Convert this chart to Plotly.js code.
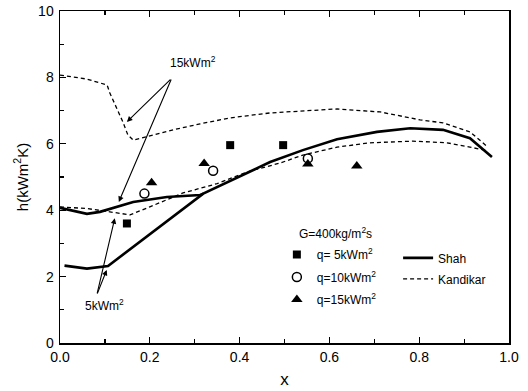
<!DOCTYPE html>
<html>
<head>
<meta charset="utf-8">
<script src="https://cdn.plot.ly/plotly-3.0.1.min.js"></script>
<style>html,body{margin:0;padding:0;background:#fff;}#chart{width:528px;height:391px;}</style>
</head>
<body>
<div id="chart"></div>
<script>
// Shah correlation, q = 5 kW/m2
const shah5X = [0.01, 0.06, 0.107, 0.319, 0.468, 0.541, 0.617, 0.706, 0.78, 0.853, 0.913, 0.962];
const shah5Y = [2.33, 2.24, 2.32, 4.50, 5.45, 5.81, 6.14, 6.36, 6.47, 6.42, 6.17, 5.60];
// Shah correlation, q = 15 kW/m2
const shah15X = [0.0, 0.06, 0.089, 0.163, 0.238, 0.312, 0.319];
const shah15Y = [4.07, 3.89, 3.95, 4.25, 4.40, 4.46, 4.50];
// Kandikar correlation, q = 15 kW/m2
const kand15X = [0.0, 0.06, 0.105, 0.111, 0.14, 0.151, 0.163, 0.189, 0.252, 0.312, 0.379, 0.468, 0.617, 0.713, 0.802, 0.853, 0.913, 0.953];
const kand15Y = [8.07, 7.95, 7.77, 7.53, 6.66, 6.27, 6.11, 6.20, 6.42, 6.60, 6.78, 6.93, 7.05, 6.96, 6.72, 6.63, 6.36, 5.90];
// Kandikar correlation, q = 5 kW/m2
const kand5X = [0.0, 0.06, 0.111, 0.156, 0.20, 0.274, 0.35, 0.416, 0.49, 0.541, 0.617, 0.69, 0.786, 0.862, 0.913, 0.95];
const kand5Y = [4.10, 4.05, 3.95, 3.86, 4.10, 4.52, 4.80, 5.15, 5.42, 5.66, 5.90, 6.03, 6.08, 6.03, 5.90, 5.80];
// Experimental data
const q5X = [0.149, 0.379, 0.497];
const q5Y = [3.60, 5.96, 5.96];
const q10X = [0.188, 0.341, 0.552];
const q10Y = [4.50, 5.19, 5.56];
const q15X = [0.204, 0.321, 0.552, 0.661];
const q15Y = [4.83, 5.41, 5.39, 5.33];

const xTicks = [0, 0.2, 0.4, 0.6, 0.8, 1.0];
const xTickText = ["0.0", "0.2", "0.4", "0.6", "0.8", "1.0"];
const yTicks = [0, 2, 4, 6, 8, 10];

const FONT = "Liberation Sans, Arial, sans-serif";

const traces = [
  {x: shah5X, y: shah5Y, mode: 'lines', name: 'Shah', legend: 'legend2', legendgroup: 'a',
   line: {color: '#000', width: 2.6}, showlegend: true},
  {x: shah15X, y: shah15Y, mode: 'lines', name: 'Shah', legend: 'legend2', legendgroup: 'a',
   line: {color: '#000', width: 2.6}, showlegend: false},
  {x: kand15X, y: kand15Y, mode: 'lines', name: 'Kandikar', legend: 'legend2', legendgroup: 'b',
   line: {color: '#000', width: 1.3, dash: '4px,3px'}, showlegend: true},
  {x: kand5X, y: kand5Y, mode: 'lines', name: 'Kandikar', legend: 'legend2', legendgroup: 'b',
   line: {color: '#000', width: 1.3, dash: '4px,3px'}, showlegend: false},
  {x: q5X, y: q5Y, mode: 'markers', name: 'q= 5kWm<sup>2</sup>', legendgroup: 'c',
   marker: {symbol: 'square', size: 8, color: '#000'}},
  {x: q10X, y: q10Y, mode: 'markers', name: 'q=10kWm<sup>2</sup>', legendgroup: 'd',
   marker: {symbol: 'circle-open', size: 9, color: '#000', line: {width: 1.5, color: '#000'}}},
  {x: q15X, y: q15Y, mode: 'markers', name: 'q=15kWm<sup>2</sup>', legendgroup: 'e',
   marker: {symbol: 'triangle-up', size: 10, color: '#000'}}
];

const annStyle = {showarrow: true, arrowhead: 2, arrowsize: 1, arrowwidth: 1.1, arrowcolor: '#000',
  axref: 'x', ayref: 'y', text: ''};

const layout = {
  width: 528, height: 391,
  margin: {l: 60, r: 19, t: 11, b: 48},
  paper_bgcolor: '#fff', plot_bgcolor: '#fff',
  font: {family: FONT, size: 14, color: '#000'},
  xaxis: {
    range: [0, 1.0], tickvals: xTicks, ticktext: xTickText,
    ticks: 'inside', ticklen: 6, tickwidth: 1.3, tickcolor: '#000',
    minor: {dtick: 0.1, ticks: 'inside', ticklen: 4, tickwidth: 1.2, tickcolor: '#000'},
    showline: true, linecolor: '#000', linewidth: 1.5, mirror: 'ticks',
    showgrid: false, zeroline: false,
    tickfont: {family: FONT, size: 14}, ticklabelstandoff: 1,
    title: {text: 'x', font: {family: FONT, size: 17}, standoff: 9}
  },
  yaxis: {
    range: [0, 10], tickvals: yTicks,
    ticks: 'inside', ticklen: 6, tickwidth: 1.3, tickcolor: '#000',
    minor: {dtick: 1, ticks: 'inside', ticklen: 4, tickwidth: 1.2, tickcolor: '#000'},
    showline: true, linecolor: '#000', linewidth: 1.5, mirror: true,
    showgrid: false, zeroline: false,
    tickfont: {family: FONT, size: 14}, ticklabelstandoff: 2,
    title: {text: 'h(kWm<sup>2</sup>K)', font: {family: FONT, size: 15}, standoff: 6}
  },
  legend: {
    x: 0.483, y: 0.310, xanchor: 'left', yanchor: 'top',
    bgcolor: 'rgba(0,0,0,0)', borderwidth: 0,
    font: {family: FONT, size: 12},
    tracegroupgap: 3.5, itemwidth: 30
  },
  legend2: {
    x: 0.753, y: 0.300, xanchor: 'left', yanchor: 'top',
    bgcolor: 'rgba(0,0,0,0)', borderwidth: 0,
    font: {family: FONT, size: 12},
    tracegroupgap: 2, itemwidth: 30
  },
  annotations: [
    Object.assign({}, annStyle, {x: 0.149, y: 6.66, ax: 0.249, ay: 7.98}),
    Object.assign({}, annStyle, {x: 0.131, y: 4.25, ax: 0.249, ay: 7.98}),
    Object.assign({}, annStyle, {x: 0.122, y: 3.76, ax: 0.082, ay: 1.45}),
    Object.assign({}, annStyle, {x: 0.104, y: 2.20, ax: 0.082, ay: 1.45}),
    {x: 0.296, y: 8.46, text: '15kWm<sup>2</sup>', showarrow: false, font: {family: FONT, size: 12}},
    {x: 0.10, y: 1.15, text: '5kWm<sup>2</sup>', showarrow: false, font: {family: FONT, size: 12}},
    {xref: 'paper', yref: 'paper', x: 0.528, y: 0.331, xanchor: 'left', yanchor: 'middle',
     text: 'G=400kg/m<sup>2</sup>s', showarrow: false, font: {family: FONT, size: 12}}
  ],
  showlegend: true
};

Plotly.newPlot('chart', traces, layout, {displayModeBar: false, staticPlot: true});
</script>
</body>
</html>
